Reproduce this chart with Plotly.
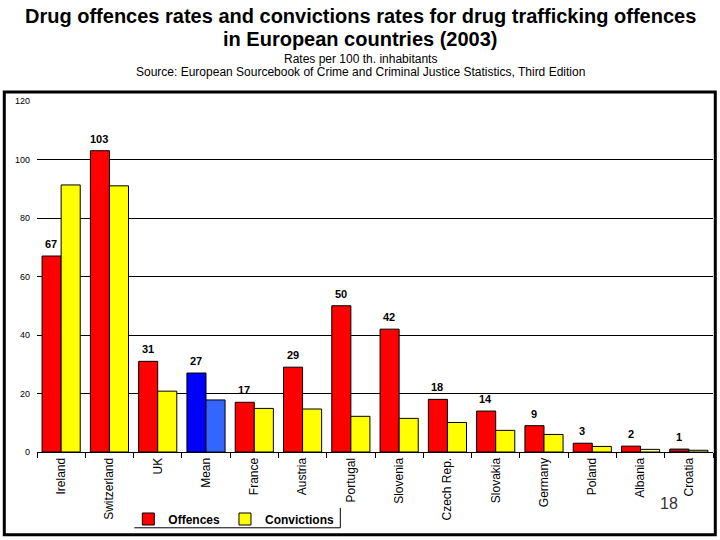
import plotly.graph_objects as go

countries = ["Ireland", "Switzerland", "UK", "Mean", "France", "Austria", "Portugal",
             "Slovenia", "Czech Rep.", "Slovakia", "Germany", "Poland", "Albania", "Croatia"]
offences = [67, 103, 31, 27, 17, 29, 50, 42, 18, 14, 9, 3, 2, 1]
convictions = [91.3, 91.0, 20.8, 17.8, 14.9, 14.7, 12.2, 11.5, 10.1, 7.4, 6.0, 1.9, 0.9, 0.6]

title_lines = ["Drug offences rates and convictions rates for drug trafficking offences",
               "in European countries (2003)"]
subtitle_lines = ["Rates per 100 th. inhabitants",
                  "Source: European Sourcebook of Crime and Criminal Justice Statistics, Third Edition"]

off_colors = ["#FF0000"] * len(countries)
conv_colors = ["#FFFF00"] * len(countries)
off_colors[3] = "#0000FF"
conv_colors[3] = "#3366FF"
off_colors[13] = "#A81414"
conv_colors[12] = "#FFFF99"
conv_colors[13] = "#FFFF99"

FONT = "Arial, Liberation Sans, sans-serif"

def px(x):
    return (x - 36.7) / 676

def py(y):
    return (453 - y) / 352

fig = go.Figure()
fig.add_trace(go.Bar(name="Offences", x=countries, y=offences,
                     marker=dict(color=off_colors, line=dict(color="black", width=1))))
fig.add_trace(go.Bar(name="Convictions", x=countries, y=convictions,
                     marker=dict(color=conv_colors, line=dict(color="black", width=1))))

annotations = []
for c, v in zip(countries, offences):
    annotations.append(dict(x=c, y=v, xref="x", yref="y", text=str(v), showarrow=False,
                            xshift=-10, yshift=4, yanchor="bottom",
                            font=dict(family=FONT, size=11, color="black", weight="bold")))

for line, yc in zip(title_lines, [16, 39]):
    annotations.append(dict(x=px(360), y=py(yc), xref="paper", yref="paper", text=line,
                            showarrow=False, xanchor="center", yanchor="middle",
                            font=dict(family=FONT, size=20, color="black", weight="bold")))
for line, yc in zip(subtitle_lines, [59, 72]):
    annotations.append(dict(x=px(360), y=py(yc), xref="paper", yref="paper", text=line,
                            showarrow=False, xanchor="center", yanchor="middle",
                            font=dict(family=FONT, size=12, color="black")))
annotations.append(dict(x=px(669), y=py(505), xref="paper", yref="paper",
                        text="18", showarrow=False, xanchor="center", yanchor="middle",
                        font=dict(family=FONT, size=16, color="#333333")))

shapes = [
    dict(type="rect", xref="paper", yref="paper", x0=px(4), x1=px(715), y0=py(536), y1=py(92),
         line=dict(color="black", width=3)),
    dict(type="line", xref="paper", yref="paper", x0=px(134), x1=px(340), y0=py(529), y1=py(529),
         line=dict(color="black", width=1)),
    dict(type="line", xref="paper", yref="paper", x0=px(340), x1=px(340), y0=py(509), y1=py(529),
         line=dict(color="black", width=1)),
]

fig.update_layout(
    width=720, height=540,
    margin=dict(l=36.7, r=7.4, t=101, b=87),
    paper_bgcolor="white", plot_bgcolor="white",
    barmode="group", bargap=0.21, bargroupgap=0,
    xaxis=dict(tickangle=-90, tickson="boundaries", ticks="outside", ticklen=5, tickcolor="black",
               showline=True, linecolor="black", linewidth=1, showgrid=False,
               tickfont=dict(family=FONT, size=12, color="black")),
    yaxis=dict(range=[0, 120], dtick=20, showgrid=True, gridcolor="black", gridwidth=1,
               zeroline=False, showline=False, ticks="", ticklabelstandoff=6,
               tickfont=dict(family=FONT, size=9, color="black")),
    legend=dict(orientation="h", x=px(128), y=py(519), xanchor="left", yanchor="middle",
                font=dict(family=FONT, size=12, color="black", weight="bold"),
                bgcolor="rgba(0,0,0,0)", itemwidth=30),
    annotations=annotations,
    shapes=shapes,
)

fig.write_html("out.html")
